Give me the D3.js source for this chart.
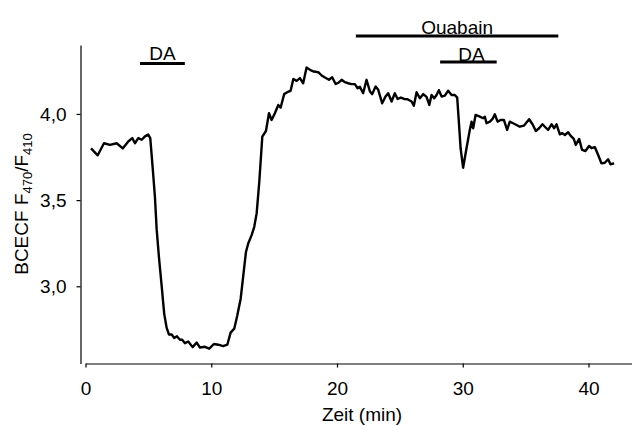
<!DOCTYPE html>
<html>
<head>
<meta charset="utf-8">
<script src="https://cdn.jsdelivr.net/npm/d3@7/dist/d3.min.js"></script>
<style>
  body { margin: 0; background: #fff; }
  svg { font-family: 'Liberation Sans', Arial, sans-serif; }
  .axis path, .axis line { stroke: #000; stroke-width: 1.2; }
  .axis text { font-size: 19px; fill: #000; }
</style>
</head>
<body>
<div id="chart"></div>
<script>
// time (min) and BCECF ratio
const timeMin = [
  0.44, 0.97, 1.47, 1.95, 2.48, 2.96, 3.40, 3.72, 3.93, 4.20, 4.47, 4.73, 4.99, 5.15,
  5.34, 5.52, 5.66, 5.84, 6.06, 6.26, 6.45, 6.64, 6.85, 7.06, 7.27, 7.51, 7.69, 7.91, 8.17,
  8.52, 8.84, 9.10, 9.50, 9.84, 10.21, 10.56, 10.95, 11.28, 11.54, 11.83, 12.07, 12.34,
  12.55, 12.76, 12.94, 13.21, 13.42, 13.61, 13.82, 14.06, 14.35, 14.59, 14.80, 15.06,
  15.33, 15.52, 15.80, 16.04, 16.31, 16.53, 16.79, 17.05, 17.31, 17.58, 17.85, 18.16,
  18.51, 18.78, 19.04, 19.36, 19.62, 19.89, 20.10, 20.37, 20.63, 20.89, 21.16, 21.42,
  21.64, 21.82, 22.08, 22.35, 22.62, 22.80, 23.07, 23.28, 23.59, 23.86, 24.07, 24.34,
  24.60, 24.82, 25.08, 25.34, 25.61, 25.93, 26.11, 26.33, 26.59, 26.86, 27.12, 27.34,
  27.52, 27.73, 27.92, 28.10, 28.32, 28.58, 28.84, 29.11, 29.37, 29.56, 29.69, 29.83,
  30.03, 30.30, 30.56, 30.70, 30.83, 31.02, 31.36, 31.63, 31.76, 31.89, 32.16, 32.37,
  32.55, 32.77, 33.00, 33.27, 33.53, 33.74, 34.01, 34.28, 34.54, 34.86, 35.28, 35.55,
  35.81, 36.07, 36.34, 36.61, 36.79, 37.06, 37.27, 37.46, 37.72, 37.93, 38.12, 38.38,
  38.57, 38.83, 38.99, 39.26, 39.49, 39.76, 40.05, 40.24, 40.50, 40.77, 41.03, 41.30,
  41.56, 41.75, 42.04
];
const ratio = [
  3.80, 3.76, 3.83, 3.82, 3.83, 3.80, 3.84, 3.86, 3.83, 3.86, 3.85, 3.87, 3.88, 3.86,
  3.69, 3.52, 3.33, 3.17, 3.00, 2.84, 2.76, 2.72, 2.72, 2.70, 2.71, 2.69, 2.69, 2.67, 2.68,
  2.647, 2.673, 2.645, 2.649, 2.638, 2.665, 2.661, 2.653, 2.661, 2.731, 2.754, 2.831, 2.928,
  3.064, 3.199, 3.248, 3.297, 3.345, 3.423, 3.606, 3.868, 3.901, 4.004, 3.965, 4.004,
  4.052, 4.037, 4.115, 4.126, 4.134, 4.203, 4.192, 4.208, 4.178, 4.269, 4.256, 4.246,
  4.242, 4.223, 4.211, 4.198, 4.213, 4.174, 4.180, 4.198, 4.184, 4.178, 4.173, 4.173,
  4.149, 4.157, 4.120, 4.198, 4.130, 4.115, 4.159, 4.140, 4.062, 4.101, 4.120, 4.072,
  4.120, 4.087, 4.095, 4.087, 4.085, 4.072, 4.048, 4.126, 4.091, 4.115, 4.099, 4.052,
  4.110, 4.091, 4.110, 4.138, 4.101, 4.106, 4.135, 4.110, 4.110, 4.095, 3.955, 3.801,
  3.688, 3.801, 3.907, 3.955, 3.917, 3.994, 3.984, 3.975, 3.984, 3.946, 3.955, 3.971,
  3.998, 3.955, 3.965, 3.965, 3.907, 3.955, 3.946, 3.936, 3.926, 3.932, 3.969, 3.940,
  3.901, 3.917, 3.940, 3.920, 3.907, 3.940, 3.917, 3.940, 3.882, 3.888, 3.878, 3.894,
  3.874, 3.855, 3.820, 3.855, 3.791, 3.785, 3.814, 3.801, 3.808, 3.762, 3.713, 3.717,
  3.737, 3.708, 3.713
];

// application bars (start, end in min) with labels
const treatLabels = ['DA', 'Ouabain', 'DA'];
const treatStart = [4.33, 21.5, 28.2];
const treatEnd = [7.9, 37.6, 32.7];

const xTicks = [0, 10, 20, 30, 40];
const yTicks = [3.0, 3.5, 4.0];

const width = 632, height = 426;

const svg = d3.select('#chart').append('svg')
  .attr('width', width)
  .attr('height', height);

const xScale = d3.scaleLinear().domain([0, 43.5]).range([85.5, 632.5]);
const yScale = d3.scaleLinear().domain([2.552, 4.40]).range([363.5, 45]);

// axes
svg.append('g')
  .attr('class', 'x axis')
  .attr('transform', 'translate(0,363.5)')
  .call(d3.axisBottom(xScale).tickValues(xTicks).tickSize(4).tickSizeOuter(0).tickPadding(14));

svg.append('g')
  .attr('class', 'y axis')
  .attr('transform', 'translate(80.5,0)')
  .call(d3.axisLeft(yScale).tickValues(yTicks).tickSize(4).tickSizeOuter(0).tickPadding(10)
    .tickFormat(d => d3.format('.1f')(d).replace('.', ',')));

svg.selectAll('.axis .domain').attr('stroke', '#000');

// trace
const pts = timeMin.map((t, i) => ({x: t, y: ratio[i]}));
svg.append('path')
  .datum(pts)
  .attr('fill', 'none')
  .attr('stroke', '#000')
  .attr('stroke-width', 2.4)
  .attr('stroke-linejoin', 'round')
  .attr('d', d3.line().x(d => xScale(d.x)).y(d => yScale(d.y)));

// treatment bars
const barY = [63.5, 36, 62];
const labelY = [60, 33.5, 61];
treatLabels.forEach((lab, i) => {
  svg.append('line')
    .attr('x1', xScale(treatStart[i]))
    .attr('x2', xScale(treatEnd[i]))
    .attr('y1', barY[i])
    .attr('y2', barY[i])
    .attr('stroke', '#000')
    .attr('stroke-width', 3);
  svg.append('text')
    .attr('x', xScale((treatStart[i] + treatEnd[i]) / 2) + (i === 2 ? 3 : 0))
    .attr('y', labelY[i])
    .attr('text-anchor', 'middle')
    .style('font-size', '19px')
    .text(lab);
});

// axis titles
svg.append('text')
  .attr('x', 362)
  .attr('y', 421)
  .attr('text-anchor', 'middle')
  .style('font-size', '19px')
  .text('Zeit (min)');

const yLab = svg.append('text')
  .attr('transform', 'translate(27.5,204) rotate(-90)')
  .attr('text-anchor', 'middle')
  .style('font-size', '19px');
yLab.append('tspan').text('BCECF F');
yLab.append('tspan').attr('dy', 4).style('font-size', '13px').text('470');
yLab.append('tspan').attr('dy', -4).text('/F');
yLab.append('tspan').attr('dy', 4).style('font-size', '13px').text('410');
</script>
</body>
</html>
